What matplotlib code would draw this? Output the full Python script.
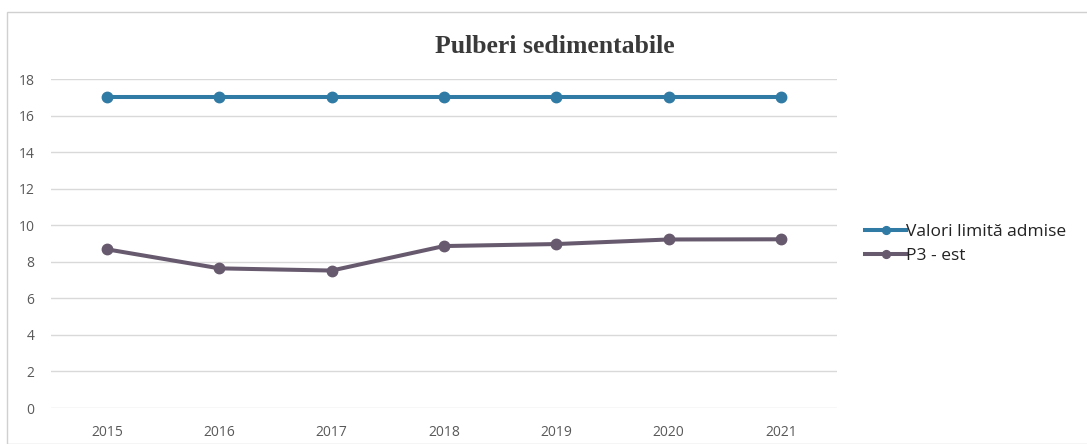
import matplotlib
matplotlib.use("Agg")
import matplotlib.pyplot as plt
from matplotlib.patches import Rectangle

# data
years = ["2015", "2016", "2017", "2018", "2019", "2020", "2021"]
limit_vals = [17, 17, 17, 17, 17, 17, 17]
p3_vals = [8.68, 7.64, 7.52, 8.86, 8.97, 9.22, 9.23]
yticks = [0, 2, 4, 6, 8, 10, 12, 14, 16, 18]

blue = "#2f7ba5"
purple = "#675a6e"
grey_txt = "#595959"

fig = plt.figure(figsize=(10.87, 4.44), dpi=100)
ax = fig.add_axes([51 / 1087, 36 / 444, 786 / 1087, 329 / 444])

# outer chart frame
fig.patches.append(Rectangle((7 / 1087, 0.0), 1.0, (444 - 12) / 444,
                             transform=fig.transFigure, fill=False,
                             edgecolor="#d0d0d0", linewidth=1))

x = range(len(years))
ax.plot(x, limit_vals, color=blue, lw=2.9, marker="o", ms=7.5,
        label="Valori limit\u0103 admise")
ax.plot(x, p3_vals, color=purple, lw=2.9, marker="o", ms=7.5,
        label="P3 - est")

ax.set_xlim(-0.5, len(years) - 0.5)
ax.set_ylim(0, 18)
ax.set_yticks(yticks)
ax.set_xticks(list(x))
ax.set_xticklabels(years)
ax.grid(axis="y", color="#d9d9d9", lw=1)
ax.set_axisbelow(True)
for s in ax.spines.values():
    s.set_visible(False)
ax.tick_params(length=0, labelsize=10, labelcolor=grey_txt)
ax.tick_params(axis="x", pad=12)
ax.tick_params(axis="y", pad=12)
for lbl in ax.get_xticklabels() + ax.get_yticklabels():
    lbl.set_family("Open Sans")

fig.text(555 / 1087, 1 - 46 / 444, "Pulberi sedimentabile", ha="center",
         va="center", family="Liberation Serif", fontweight="bold",
         fontsize=18.5, color="#3a3a3a")

leg = fig.legend(loc="center left", bbox_to_anchor=(856 / 1087, 1 - 244 / 444),
                 frameon=False, prop={"family": "Open Sans", "size": 12.5},
                 handlelength=2.4, handletextpad=0.0, labelspacing=0.45,
                 markerscale=0.75, borderpad=0)
for t in leg.get_texts():
    t.set_color("#222222")

fig.savefig("out.png", dpi=100)
